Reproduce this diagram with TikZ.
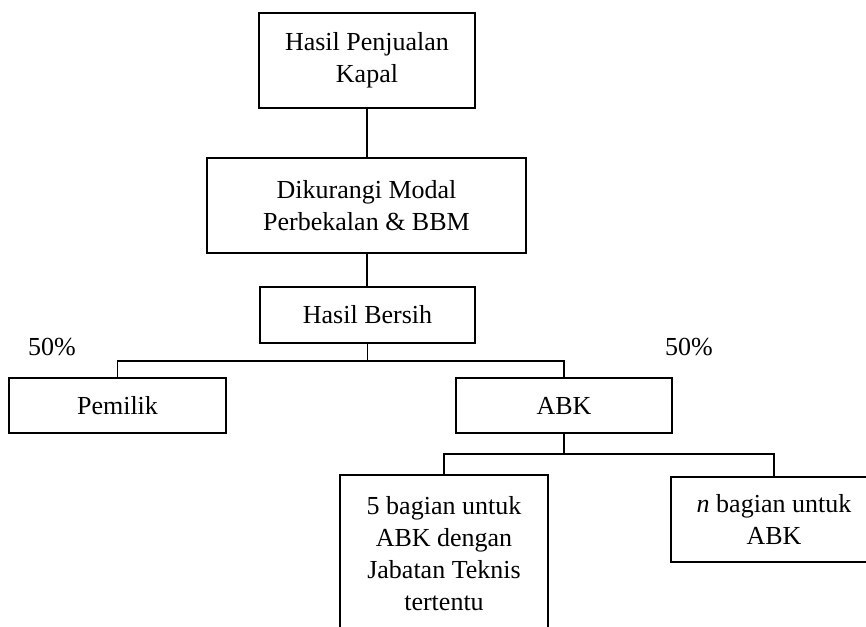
\documentclass[tikz,border=0pt]{standalone}
\usepackage{fontspec}
\setmainfont{Liberation Serif}
\begin{document}
\begin{tikzpicture}[x=1pt,y=-1pt,
    box/.style={draw,line width=2.5pt,align=center,inner sep=0pt,font=\fontsize{26}{32}\selectfont},
    link/.style={line width=1.1pt},
    pct/.style={font=\fontsize{26}{32}\selectfont}]
    \clip (0,0) rectangle (866,626);
    % boxes
    \node[box,minimum width=216,minimum height=95] (jual) at (367,60.5) {Hasil Penjualan\\Kapal};
    \node[box,minimum width=319,minimum height=95] (modal) at (366.5,205.5) {Dikurangi Modal\\Perbekalan \& BBM};
    \node[box,minimum width=215,minimum height=56] (bersih) at (367.5,315) {Hasil Bersih};
    \node[box,minimum width=217,minimum height=55] (pemilik) at (117.5,405.5) {Pemilik};
    \node[box,minimum width=216,minimum height=55] (abk) at (564,405.5) {ABK};
    \node[box,minimum width=208,minimum height=157] (teknis) at (444,553.5) {5 bagian untuk\\ABK dengan\\Jabatan Teknis\\tertentu};
    \node[box,minimum width=206,minimum height=85] (nbag) at (774,519.5) {\textit{n} bagian untuk\\ABK};
    % percentages
    \node[pct] (pctl) at (52,347) {50\%};
    \node[pct] (pctr) at (689,347) {50\%};
    % connectors
    \coordinate (split1) at (367.5,361);
    \coordinate (split2) at (564,454);
    \draw[link] (jual.south) -- (jual.south |- modal.north);
    \draw[link] (jual.south |- modal.south) -- (jual.south |- bersih.north);
    \draw[link] (bersih.south) -- (split1);
    \draw[link] (pemilik.north) |- (split1) -| (abk.north);
    \draw[link] (abk.south) -- (split2);
    \draw[link] (teknis.north) |- (split2) -| (nbag.north);
\end{tikzpicture}
\end{document}
